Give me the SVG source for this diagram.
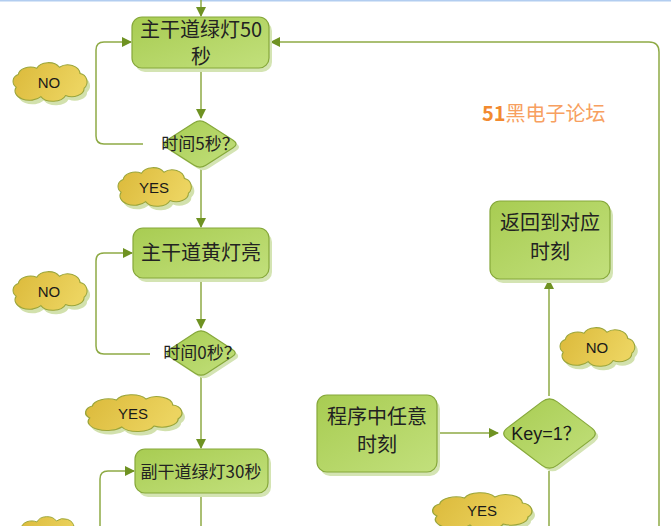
<svg xmlns="http://www.w3.org/2000/svg" width="671" height="526" viewBox="0 0 671 526">
<style>
.node{stroke:#86a83a;stroke-width:1.2;fill:url(#gNode)}
.nshadow{fill:#d4e4b3}
.cloud{stroke:#9aa53a;stroke-width:1;fill:url(#gCloud)}
.cshadow{fill:#d2e1ad}
.conn{fill:none;stroke:#8eaa45;stroke-width:1.5}
.cjk{font-family:"Noto Sans CJK SC","Noto Sans",sans-serif;fill:#222;text-anchor:middle}
.lbl{font-family:"Liberation Sans","Noto Sans",sans-serif;fill:#1a1a1a;text-anchor:middle;font-size:15px}
</style>
<defs>
<linearGradient id="gNode" x1="0" y1="0" x2="1" y2="1">
<stop offset="0" stop-color="#a8cc52"/>
<stop offset="1" stop-color="#c2e07c"/>
</linearGradient>
<linearGradient id="gCloud" x1="0" y1="0" x2="1" y2="0.3">
<stop offset="0" stop-color="#dbb93a"/>
<stop offset="1" stop-color="#ecd460"/>
</linearGradient>
<marker id="arr" viewBox="0 0 10 10" refX="9" refY="5" markerWidth="10" markerHeight="10" markerUnits="userSpaceOnUse" orient="auto">
<path d="M0,0 L10,5 L0,10 Z" fill="#6f9222"/>
</marker>
<path id="cloudP" d="M5,23 A8,7 0 0 1 7,11 A12,8 0 0 1 25,5 A12,8 0 0 1 47,4 A12,9 0 0 1 67,10 A8,8 0 0 1 71,24 A12,8 0 0 1 53,31 A13,8 0 0 1 29,32 A14,9 0 0 1 5,23 Z"/>
</defs>
<rect x="0" y="0" width="671" height="1.5" fill="#b2cdf0"/>

<g id="connectors">
<path class="conn" d="M201,0 L201,16" marker-end="url(#arr)"/>
<path class="conn" d="M201,68 L201,118" marker-end="url(#arr)"/>
<path class="conn" d="M143,144 L104,144 Q96,144 96,136 L96,50 Q96,42 104,42 L131,42" marker-end="url(#arr)"/>
<path class="conn" d="M201,169 L201,227" marker-end="url(#arr)"/>
<path class="conn" d="M201,278 L201,328" marker-end="url(#arr)"/>
<path class="conn" d="M150,354 L104,354 Q96,354 96,346 L96,261 Q96,253 104,253 L132,253" marker-end="url(#arr)"/>
<path class="conn" d="M201,377 L201,448" marker-end="url(#arr)"/>
<path class="conn" d="M201,493 L201,526"/>
<path class="conn" d="M100,526 L100,479 Q100,471 108,471 L134,471" marker-end="url(#arr)"/>
<path class="conn" d="M659,526 L659,52 Q659,42 649,42 L271,42" marker-end="url(#arr)"/>
<path class="conn" d="M437,433 L498,433" marker-end="url(#arr)"/>
<path class="conn" d="M549,396 L549,280" marker-end="url(#arr)"/>
<path class="conn" d="M549,471 L549,526"/>
</g>

<g id="n1">
<rect class="nshadow" x="135" y="21" width="137" height="51" rx="10"/>
<rect class="node" x="132" y="17" width="137" height="51" rx="10"/>
<text class="cjk" x="201" y="37" font-size="20">主干道绿灯50</text>
<text class="cjk" x="201" y="64" font-size="20">秒</text>
</g>

<g id="d1">
<path class="nshadow" transform="translate(3,3)" d="M205.85,122.75 L233.15,140.25 Q239,144 233.15,147.75 L205.85,165.25 Q200,169 194.15,165.25 L166.85,147.75 Q161,144 166.85,140.25 L194.15,122.75 Q200,119 205.85,122.75 Z"/>
<path class="node" d="M205.85,122.75 L233.15,140.25 Q239,144 233.15,147.75 L205.85,165.25 Q200,169 194.15,165.25 L166.85,147.75 Q161,144 166.85,140.25 L194.15,122.75 Q200,119 205.85,122.75 Z"/>
<text class="cjk" x="200" y="150" font-size="17">时间5秒？</text>
</g>

<g id="n2">
<rect class="nshadow" x="136" y="232" width="136" height="50" rx="10"/>
<rect class="node" x="133" y="228" width="136" height="50" rx="10"/>
<text class="cjk" x="201" y="260" font-size="20">主干道黄灯亮</text>
</g>

<g id="d2">
<path class="nshadow" transform="translate(3,3)" d="M206.55,332.6 L232.45,349.4 Q238,353 232.45,356.6 L206.55,373.4 Q201,377 195.45,373.4 L169.55,356.6 Q164,353 169.55,349.4 L195.45,332.6 Q201,329 206.55,332.6 Z"/>
<path class="node" d="M206.55,332.6 L232.45,349.4 Q238,353 232.45,356.6 L206.55,373.4 Q201,377 195.45,373.4 L169.55,356.6 Q164,353 169.55,349.4 L195.45,332.6 Q201,329 206.55,332.6 Z"/>
<text class="cjk" x="202" y="359" font-size="17">时间0秒？</text>
</g>

<g id="n3">
<rect class="nshadow" x="138" y="453" width="133" height="44" rx="10"/>
<rect class="node" x="135" y="449" width="133" height="44" rx="10"/>
<text class="cjk" x="201" y="478" font-size="17">副干道绿灯30秒</text>
</g>

<g id="n4">
<rect class="nshadow" x="493" y="205" width="120" height="78" rx="10"/>
<rect class="node" x="490" y="201" width="120" height="78" rx="10"/>
<text class="cjk" x="550" y="230" font-size="20">返回到对应</text>
<text class="cjk" x="550" y="259" font-size="20">时刻</text>
</g>

<g id="n5">
<rect class="nshadow" x="320" y="399" width="120" height="77" rx="10"/>
<rect class="node" x="317" y="395" width="120" height="77" rx="10"/>
<text class="cjk" x="377" y="424" font-size="20">程序中任意</text>
<text class="cjk" x="377" y="452" font-size="20">时刻</text>
</g>

<g id="d3">
<path class="nshadow" transform="translate(3,3)" d="M556.925,401.625 L591.575,427.875 Q599,433.5 591.575,439.125 L556.925,465.375 Q549.5,471 542.075,465.375 L507.425,439.125 Q500,433.5 507.425,427.875 L542.075,401.625 Q549.5,396 556.925,401.625 Z"/>
<path class="node" d="M556.925,401.625 L591.575,427.875 Q599,433.5 591.575,439.125 L556.925,465.375 Q549.5,471 542.075,465.375 L507.425,439.125 Q500,433.5 507.425,427.875 L542.075,401.625 Q549.5,396 556.925,401.625 Z"/>
<text x="546" y="440" font-family="Liberation Sans, Noto Sans CJK SC, sans-serif" font-size="18" fill="#1a1a1a" text-anchor="middle">Key=1？</text>
</g>

<g id="c_no1">
<use href="#cloudP" class="cshadow" transform="translate(14,67) scale(1.03,1.05)"/>
<use href="#cloudP" class="cloud" transform="translate(11,63) scale(1.03,1.05)"/>
<text class="lbl" x="49" y="88">NO</text>
</g>
<g id="c_yes1">
<use href="#cloudP" class="cshadow" transform="translate(119,172) scale(1.02,1.05)"/>
<use href="#cloudP" class="cloud" transform="translate(116,168) scale(1.02,1.05)"/>
<text class="lbl" x="154" y="193">YES</text>
</g>
<g id="c_no2">
<use href="#cloudP" class="cshadow" transform="translate(14,276) scale(1.03,1.05)"/>
<use href="#cloudP" class="cloud" transform="translate(11,272) scale(1.03,1.05)"/>
<text class="lbl" x="49" y="297">NO</text>
</g>
<g id="c_yes2">
<use href="#cloudP" class="cshadow" transform="translate(86,399) scale(1.34,1.0)"/>
<use href="#cloudP" class="cloud" transform="translate(83,395) scale(1.34,1.0)"/>
<text class="lbl" x="133" y="419">YES</text>
</g>
<g id="c_no3">
<use href="#cloudP" class="cshadow" transform="translate(561,332) scale(1.04,1.05)"/>
<use href="#cloudP" class="cloud" transform="translate(558,328) scale(1.04,1.05)"/>
<text class="lbl" x="597" y="353">NO</text>
</g>
<g id="c_yes3">
<use href="#cloudP" class="cshadow" transform="translate(433,497) scale(1.38,1.0)"/>
<use href="#cloudP" class="cloud" transform="translate(430,493) scale(1.38,1.0)"/>
<text class="lbl" x="482" y="516">YES</text>
</g>
<g id="c_bl">
<use href="#cloudP" class="cshadow" transform="translate(18,521) scale(0.88,1.0)"/>
<use href="#cloudP" class="cloud" transform="translate(15,517) scale(0.88,1.0)"/>
</g>

<g id="watermark">
<text x="482" y="121" font-family="Noto Sans CJK SC, Noto Sans, sans-serif" font-size="20"><tspan fill="#f28a30" font-weight="bold">51</tspan><tspan fill="#f7a060">黑电子论坛</tspan></text>
</g>
</svg>
